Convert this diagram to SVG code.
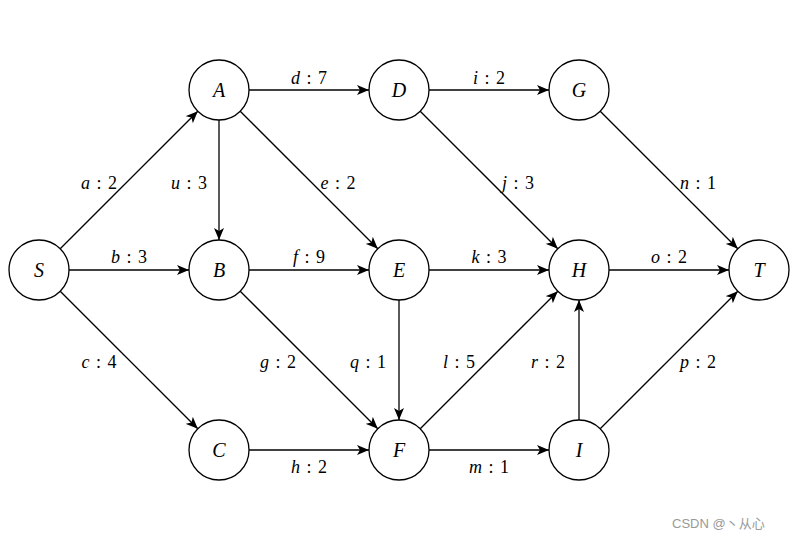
<svg xmlns="http://www.w3.org/2000/svg" width="798" height="541" viewBox="0 0 798 541">
<style>
.n{fill:#fff;stroke:#000;stroke-width:1.3}
.nl{font-style:italic;font-size:20px;text-anchor:middle;fill:#000}
.e{stroke:#000;stroke-width:1.3;fill:none;marker-end:url(#ah)}
.el{font-size:18px;text-anchor:middle;fill:#000;word-spacing:2px}
.i{font-style:italic}
.wm{font-size:13px;fill:#999}
</style>
<defs>
<marker id="ah" markerWidth="13" markerHeight="11" refX="12" refY="5.5" orient="auto" markerUnits="userSpaceOnUse">
<path d="M0,0.5 L12,5.5 L0,10.5 L3,5.5 Z" fill="#000"/>
</marker>
</defs>
<rect width="798" height="541" fill="#fff"/>
<g id="edges">
<line class="e" x1="60.2" y1="248.8" x2="197.8" y2="111.2"/>
<line class="e" x1="69" y1="270" x2="189" y2="270"/>
<line class="e" x1="60.2" y1="291.2" x2="197.8" y2="428.8"/>
<line class="e" x1="249" y1="90" x2="369" y2="90"/>
<line class="e" x1="219" y1="120" x2="219" y2="240"/>
<line class="e" x1="240.2" y1="111.2" x2="377.8" y2="248.8"/>
<line class="e" x1="249" y1="270" x2="369" y2="270"/>
<line class="e" x1="240.2" y1="291.2" x2="377.8" y2="428.8"/>
<line class="e" x1="249" y1="450" x2="369" y2="450"/>
<line class="e" x1="429" y1="90" x2="549" y2="90"/>
<line class="e" x1="420.2" y1="111.2" x2="557.8" y2="248.8"/>
<line class="e" x1="429" y1="270" x2="549" y2="270"/>
<line class="e" x1="399" y1="300" x2="399" y2="420"/>
<line class="e" x1="420.2" y1="428.8" x2="557.8" y2="291.2"/>
<line class="e" x1="429" y1="450" x2="549" y2="450"/>
<line class="e" x1="600.2" y1="111.2" x2="737.8" y2="248.8"/>
<line class="e" x1="609" y1="270" x2="729" y2="270"/>
<line class="e" x1="579" y1="420" x2="579" y2="300"/>
<line class="e" x1="600.2" y1="428.8" x2="737.8" y2="291.2"/>
</g>
<g id="edge-labels" font-family="'Liberation Serif', 'Times New Roman', serif">
<text class="el" x="99" y="189"><tspan class="i">a</tspan> : 2</text>
<text class="el" x="129" y="263"><tspan class="i">b</tspan> : 3</text>
<text class="el" x="99" y="368"><tspan class="i">c</tspan> : 4</text>
<text class="el" x="309" y="84"><tspan class="i">d</tspan> : 7</text>
<text class="el" x="189" y="189"><tspan class="i">u</tspan> : 3</text>
<text class="el" x="338" y="189"><tspan class="i">e</tspan> : 2</text>
<text class="el" x="309" y="263"><tspan class="i">f</tspan> : 9</text>
<text class="el" x="278" y="368"><tspan class="i">g</tspan> : 2</text>
<text class="el" x="309" y="473"><tspan class="i">h</tspan> : 2</text>
<text class="el" x="489" y="84"><tspan class="i">i</tspan> : 2</text>
<text class="el" x="518" y="189"><tspan class="i">j</tspan> : 3</text>
<text class="el" x="489" y="263"><tspan class="i">k</tspan> : 3</text>
<text class="el" x="368" y="368"><tspan class="i">q</tspan> : 1</text>
<text class="el" x="459" y="368"><tspan class="i">l</tspan> : 5</text>
<text class="el" x="489" y="473"><tspan class="i">m</tspan> : 1</text>
<text class="el" x="698" y="189"><tspan class="i">n</tspan> : 1</text>
<text class="el" x="669" y="263"><tspan class="i">o</tspan> : 2</text>
<text class="el" x="548" y="368"><tspan class="i">r</tspan> : 2</text>
<text class="el" x="698" y="368"><tspan class="i">p</tspan> : 2</text>
</g>
<g id="nodes" font-family="'Liberation Serif', 'Times New Roman', serif">
<g id="S"><circle class="n" cx="39" cy="270" r="30"/><text class="nl" x="39" y="277">S</text></g>
<g id="A"><circle class="n" cx="219" cy="90" r="30"/><text class="nl" x="219" y="97">A</text></g>
<g id="B"><circle class="n" cx="219" cy="270" r="30"/><text class="nl" x="219" y="277">B</text></g>
<g id="C"><circle class="n" cx="219" cy="450" r="30"/><text class="nl" x="219" y="457">C</text></g>
<g id="D"><circle class="n" cx="399" cy="90" r="30"/><text class="nl" x="399" y="97">D</text></g>
<g id="E"><circle class="n" cx="399" cy="270" r="30"/><text class="nl" x="399" y="277">E</text></g>
<g id="F"><circle class="n" cx="399" cy="450" r="30"/><text class="nl" x="399" y="457">F</text></g>
<g id="G"><circle class="n" cx="579" cy="90" r="30"/><text class="nl" x="579" y="97">G</text></g>
<g id="H"><circle class="n" cx="579" cy="270" r="30"/><text class="nl" x="579" y="277">H</text></g>
<g id="I"><circle class="n" cx="579" cy="450" r="30"/><text class="nl" x="579" y="457">I</text></g>
<g id="T"><circle class="n" cx="759" cy="270" r="30"/><text class="nl" x="759" y="277">T</text></g>
</g>
<text class="wm" font-family="'Liberation Sans', 'Noto Sans CJK SC', sans-serif" x="672" y="528">CSDN @丶从心</text>
</svg>
